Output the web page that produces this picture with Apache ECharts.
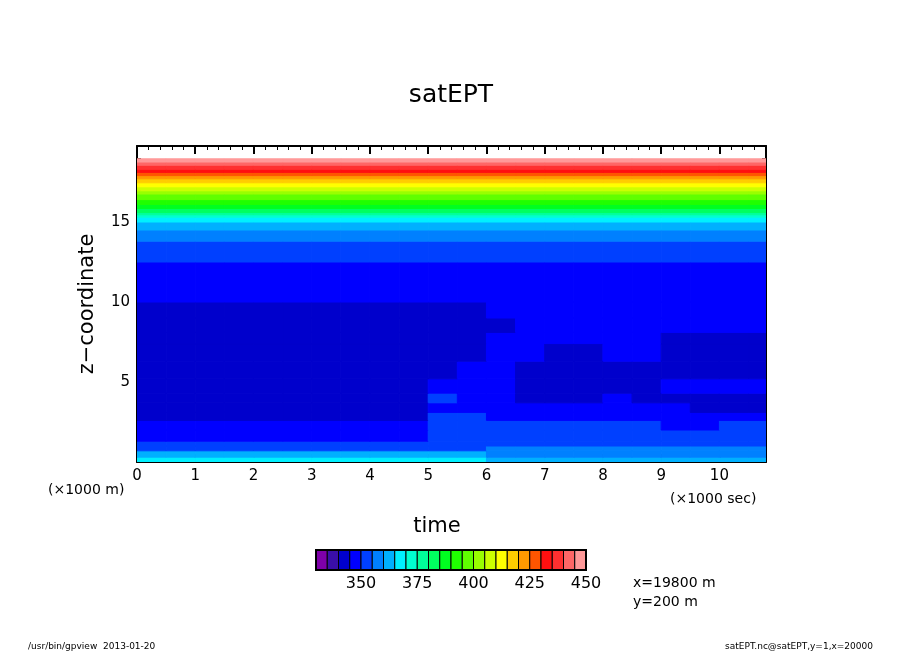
<!DOCTYPE html>
<html>
<head>
<meta charset="utf-8">
<script src="https://cdn.jsdelivr.net/npm/echarts@6/dist/echarts.min.js"></script>
<style>html,body{margin:0;padding:0;background:#fff}#main{width:904px;height:654px}</style>
</head>
<body>
<div id="main"></div>
<script>
// contour levels: 24 bins of 5 K from 330 to 450
var levelMin = 330, levelStep = 5;
var levelColors = ['#7f00aa', '#3a0fa8', '#0000cc', '#0000ff', '#0040ff', '#0080ff', '#00b0ff', '#00f0ff',
    '#00ffd0', '#00ff99', '#00ff60', '#00ff20', '#20ff00', '#60ff00', '#99ff00', '#ccff00',
    '#ffff00', '#ffcc00', '#ff9900', '#ff5500', '#ff1010', '#ff3030', '#ff6666', '#ff9999'];
var codeChars = '0123456789abcdefghijklmn';

// time columns (x1000 sec), width 0.5
var timeEdges = [0, 0.5, 1, 1.5, 2, 2.5, 3, 3.5, 4, 4.5, 5, 5.5, 6, 6.5, 7, 7.5, 8, 8.5, 9, 9.5, 10, 10.5, 11];
// z rows (x1000 m): lower edge of each row, read bottom-up; one char per time column = level bin
var rowZ = [0, 0.3, 0.7, 1.0, 1.3, 2.0, 2.6, 3.1, 3.7, 4.3, 5.2, 6.3, 7.4, 8.1, 9.0, 10.0, 12.5, 13.8, 14.5, 15.0,
    15.3, 15.45, 15.6, 15.85, 16.1, 16.4, 16.75, 16.95, 17.2, 17.45, 17.7, 17.9, 18.1, 18.3, 18.55, 18.75];
var rowCodes = [
    '7777777777776666666666',
    '6666666666665555555555',
    '4444444444445555555555',
    '4444444444444444444444',
    '3333333333444444444444',
    '3333333333444444443344',
    '2222222222443333333333',
    '2222222222333333333222',
    '2222222222433222322222',
    '2222222222333222223333',
    '2222222222233222222222',
    '2222222222223322332222',
    '2222222222223333332222',
    '2222222222222333333333',
    '2222222222223333333333',
    '3333333333333333333333',
    '4444444444444444444444',
    '5555555555555555555555',
    '6666666666666666666666',
    '7777777777777777777777',
    '8888888888888888888888',
    '9999999999999999999999',
    'aaaaaaaaaaaaaaaaaaaaaa',
    'bbbbbbbbbbbbbbbbbbbbbb',
    'cccccccccccccccccccccc',
    'dddddddddddddddddddddd',
    'eeeeeeeeeeeeeeeeeeeeee',
    'ffffffffffffffffffffff',
    'gggggggggggggggggggggg',
    'hhhhhhhhhhhhhhhhhhhhhh',
    'iiiiiiiiiiiiiiiiiiiiii',
    'jjjjjjjjjjjjjjjjjjjjjj',
    'kkkkkkkkkkkkkkkkkkkkkk',
    'llllllllllllllllllllll',
    'mmmmmmmmmmmmmmmmmmmmmm',
    'nnnnnnnnnnnnnnnnnnnnnn'
];
var zTop = 18.95;
var colorbarLabels = [350, 375, 400, 425, 450];

var cells = [];
rowCodes.forEach(function (codes, r) {
    var z0 = rowZ[r], z1 = r + 1 < rowZ.length ? rowZ[r + 1] : zTop;
    for (var c = 0; c < codes.length; c++) {
        var k = codeChars.indexOf(codes[c]);
        if (k < 0) continue;
        cells.push([timeEdges[c], timeEdges[c + 1], z0, z1, levelMin + levelStep * k + levelStep / 2]);
    }
});

var gL = 137, gT = 146, gW = 629, gH = 316;
var font = 'DejaVu Sans';
var myChart = echarts.init(document.getElementById('main'));

function axisBase(extra) {
    var a = {
        axisLine: { show: true, onZero: false, lineStyle: { color: '#000', width: 2 } },
        axisTick: { show: true, inside: true, length: 8, lineStyle: { color: '#000', width: 2 } },
        minorTick: { show: true, splitNumber: 5, length: 4, lineStyle: { color: '#000', width: 1 } },
        splitLine: { show: false },
        axisLabel: { show: false }
    };
    return Object.assign(a, extra);
}

var labelStyle = { show: true, color: '#000', fontFamily: font, fontSize: 15, margin: 7, showMaxLabel: false };

// colorbar drawn from the level list
var cbX = 316, cbY = 550, cbW = 270, cbH = 20;
var binW = cbW / levelColors.length;
var graphics = levelColors.map(function (col, i) {
    return { type: 'rect', shape: { x: cbX + i * binW, y: cbY, width: binW, height: cbH }, style: { fill: col, stroke: '#000', lineWidth: 1 } };
});
graphics.push({ type: 'rect', shape: { x: cbX, y: cbY, width: cbW, height: cbH }, style: { fill: 'none', stroke: '#000', lineWidth: 2 } });
colorbarLabels.forEach(function (v) {
    graphics.push({ type: 'text', x: cbX + (v - levelMin) / levelStep * binW, y: cbY + 34, style: { text: String(v), font: '16px ' + font, fill: '#000', textAlign: 'center', textVerticalAlign: 'middle' } });
});
var texts = [
    { t: 'satEPT', x: 451, y: 95, s: 25, a: 'center' },
    { t: 'time', x: 437, y: 527, s: 21, a: 'center' },
    { t: '(×1000 m)', x: 48, y: 490, s: 14, a: 'left' },
    { t: '(×1000 sec)', x: 670, y: 499, s: 14, a: 'left' },
    { t: 'x=19800 m', x: 633, y: 583, s: 14, a: 'left' },
    { t: 'y=200 m', x: 633, y: 602, s: 14, a: 'left' },
    { t: '/usr/bin/gpview  2013-01-20', x: 28, y: 647, s: 9, a: 'left' },
    { t: 'satEPT.nc@satEPT,y=1,x=20000', x: 873, y: 647, s: 9, a: 'right' }
];
texts.forEach(function (o) {
    graphics.push({ type: 'text', x: o.x, y: o.y, style: { text: o.t, font: o.s + 'px ' + font, fill: '#000', textAlign: o.a, textVerticalAlign: 'middle' } });
});
graphics.push({ type: 'text', x: 88, y: 304, rotation: Math.PI / 2, style: { text: 'z−coordinate', font: '21px ' + font, fill: '#000', textAlign: 'center', textVerticalAlign: 'middle' } });

var option = {
    backgroundColor: '#fff',
    animation: false,
    grid: { left: gL, top: gT, width: gW, height: gH },
    xAxis: [
        axisBase({ type: 'value', position: 'bottom', min: 0, max: 10.8, interval: 1, axisLabel: labelStyle }),
        axisBase({ type: 'value', position: 'top', min: 0, max: 10.8, interval: 1 })
    ],
    yAxis: [
        axisBase({ type: 'value', position: 'left', min: 0, max: 19.75, interval: 5,
            axisLabel: Object.assign({}, labelStyle, { formatter: function (v) { return v === 0 ? '' : v; } }) }),
        axisBase({ type: 'value', position: 'right', min: 0, max: 19.75, interval: 5 })
    ],
    series: [{
        type: 'custom',
        clip: true,
        data: cells,
        renderItem: function (params, api) {
            var p0 = api.coord([api.value(0), api.value(3)]);
            var p1 = api.coord([api.value(1), api.value(2)]);
            var k = Math.floor((api.value(4) - levelMin) / levelStep);
            var rect = echarts.graphic.clipRectByRect(
                { x: p0[0], y: p0[1], width: p1[0] - p0[0], height: p1[1] - p0[1] },
                { x: params.coordSys.x, y: params.coordSys.y, width: params.coordSys.width, height: params.coordSys.height });
            return rect && { type: 'rect', shape: rect, style: { fill: levelColors[k], stroke: levelColors[k], lineWidth: 1 } };
        }
    }],
    graphic: graphics
};
myChart.setOption(option);
</script>
</body>
</html>
